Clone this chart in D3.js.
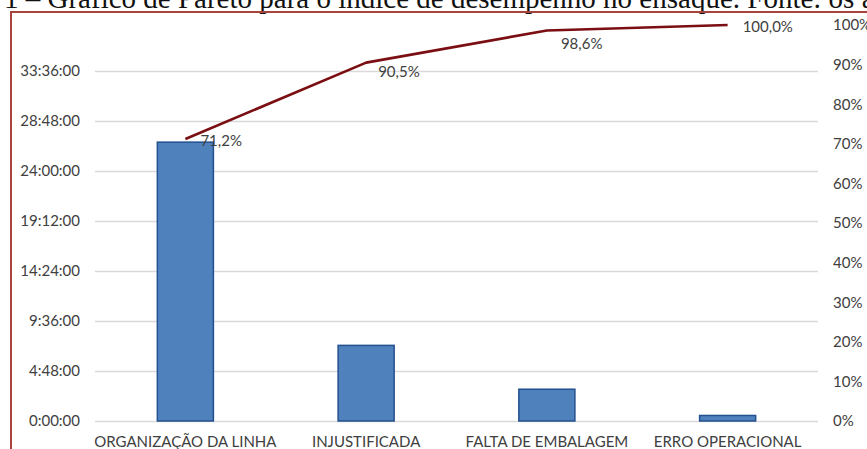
<!DOCTYPE html>
<html>
<head>
<meta charset="utf-8">
<script src="https://cdn.jsdelivr.net/npm/d3@7"></script>
<style>
  html, body { margin: 0; padding: 0; background: #fff; overflow: hidden; }
  svg { display: block; }
</style>
</head>
<body>
<svg id="chart" width="867" height="449"></svg>
<script>
// Stoppage causes, downtime in hours, and the cumulative share
const categories = ["ORGANIZAÇÃO DA LINHA", "INJUSTIFICADA", "FALTA DE EMBALAGEM", "ERRO OPERACIONAL"];
const hours = [26.77, 7.26, 3.05, 0.53];
const cumulative = [0.712, 0.905, 0.986, 1.0];
const cumulativeLabels = ["71,2%", "90,5%", "98,6%", "100,0%"];
const leftTicks = [0, 4.8, 9.6, 14.4, 19.2, 24, 28.8, 33.6];
const rightTicks = [0, 0.1, 0.2, 0.3, 0.4, 0.5, 0.6, 0.7, 0.8, 0.9, 1.0];
const caption = "1 – Gráfico de Pareto para o índice de desempenho no ensaque. Fonte: os autores";

const svg = d3.select("#chart");
const font = "Lato, 'Open Sans', sans-serif";
const textColor = "#404040";

// caption line above the chart frame, partly cut by the top edge
svg.append("text")
  .attr("x", 4).attr("y", 8)
  .attr("font-family", "'Liberation Serif', 'DejaVu Serif', serif")
  .attr("font-size", 29)
  .attr("fill", "#111")
  .text(caption);

// chart frame
svg.append("rect")
  .attr("x", 11).attr("y", 12)
  .attr("width", 900).attr("height", 500)
  .attr("fill", "none")
  .attr("stroke", "#a8443e")
  .attr("stroke-width", 2);

const x = d3.scaleBand()
  .domain(categories)
  .range([95, 818])
  .paddingInner(0.69)
  .paddingOuter(0.345);

const yLeft = d3.scaleLinear().domain([0, 38.4]).range([421, 21]);
const yRight = d3.scaleLinear().domain([0, 1]).range([421, 25]);

function hms(h) {
  const total = Math.round(h * 3600);
  const hh = Math.floor(total / 3600);
  const mm = Math.floor((total % 3600) / 60);
  const ss = total % 60;
  return hh + ":" + String(mm).padStart(2, "0") + ":" + String(ss).padStart(2, "0");
}

// gridlines and left axis
const leftAxis = d3.axisLeft(yLeft)
  .tickValues(leftTicks)
  .tickSize(-(818 - 95))
  .tickPadding(15)
  .tickFormat(hms);

const gL = svg.append("g")
  .attr("transform", "translate(95,0)")
  .call(leftAxis);
gL.select(".domain").remove();
gL.selectAll(".tick line").attr("stroke", "#d9d9d9").attr("stroke-width", 1.3);
gL.selectAll(".tick text")
  .attr("font-family", font).attr("font-size", 15).attr("fill", textColor);

// right axis (percentages)
const rightAxis = d3.axisRight(yRight)
  .tickValues(rightTicks)
  .tickSize(0)
  .tickPadding(15)
  .tickFormat(d3.format(".0%"));
const gR = svg.append("g")
  .attr("transform", "translate(818,0)")
  .call(rightAxis);
gR.select(".domain").remove();
gR.selectAll(".tick text")
  .attr("font-family", font).attr("font-size", 15).attr("fill", textColor);

// bars
svg.append("g").selectAll("rect")
  .data(hours)
  .join("rect")
  .attr("x", (d, i) => x(categories[i]))
  .attr("y", d => yLeft(d))
  .attr("width", x.bandwidth())
  .attr("height", d => yLeft(0) - yLeft(d))
  .attr("fill", "#4f81bd")
  .attr("stroke", "#23508e")
  .attr("stroke-width", 1.5);

// category labels
const gX = svg.append("g")
  .attr("transform", "translate(0,421)")
  .call(d3.axisBottom(x).tickSize(0).tickPadding(15));
gX.select(".domain").remove();
gX.selectAll(".tick text")
  .attr("font-family", font).attr("font-size", 15).attr("fill", textColor);

// cumulative line
const cx = i => x(categories[i]) + x.bandwidth() / 2;
const line = d3.line()
  .x((d, i) => cx(i))
  .y(d => yRight(d));
svg.append("path")
  .datum(cumulative)
  .attr("d", line)
  .attr("fill", "none")
  .attr("stroke", "#7a0e12")
  .attr("stroke-width", 2.6)
  .attr("stroke-linejoin", "round");

// point labels placed beside or below each vertex
const labelOffsets = [[15, 7], [12, 14], [14, 18], [15, 7]];
svg.append("g").selectAll("text")
  .data(cumulative)
  .join("text")
  .attr("x", (d, i) => cx(i) + labelOffsets[i][0])
  .attr("y", (d, i) => yRight(d) + labelOffsets[i][1])
  .attr("font-family", font)
  .attr("font-size", 15)
  .attr("fill", textColor)
  .text((d, i) => cumulativeLabels[i]);
</script>
</body>
</html>
